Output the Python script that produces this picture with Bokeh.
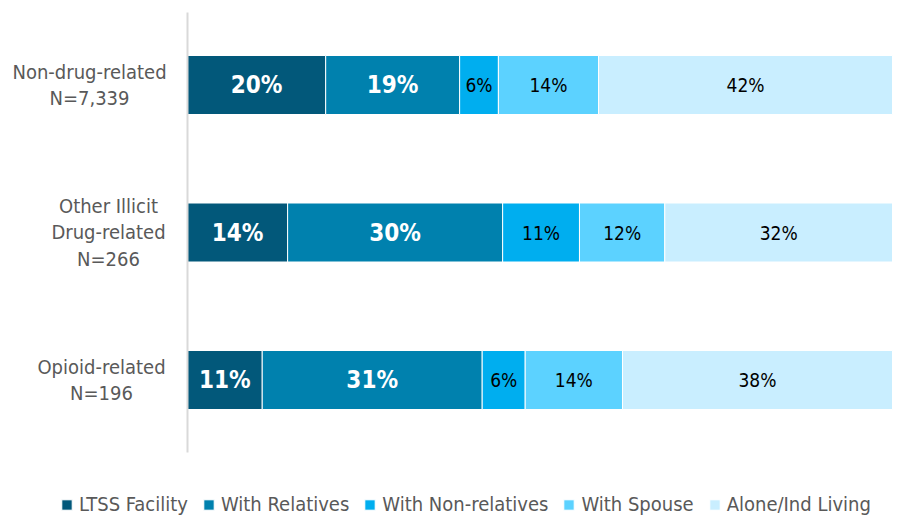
from bokeh.plotting import figure
from bokeh.models import ColumnDataSource, Label, FixedTicker, Range1d
from bokeh.core.properties import value
from bokeh.embed import file_html
from bokeh.resources import INLINE
import numpy as np

categories = ["Non-drug-related\nN=7,339", "Other Illicit\nDrug-related\nN=266", "Opioid-related\nN=196"]
series = ["LTSS Facility", "With Relatives", "With Non-relatives", "With Spouse", "Alone/Ind Living"]
ltss = [19.6, 14.2, 10.6]
relatives = [19.0, 30.5, 31.2]
nonrelatives = [5.5, 10.9, 6.1]
spouse = [14.2, 12.1, 13.8]
alone = [41.7, 32.3, 38.3]
labels_ltss = ["20%", "14%", "11%"]
labels_relatives = ["19%", "30%", "31%"]
labels_nonrelatives = ["6%", "11%", "6%"]
labels_spouse = ["14%", "12%", "14%"]
labels_alone = ["42%", "32%", "38%"]
colors = ["#02587A", "#0081AE", "#00AEEF", "#5CD2FF", "#C9EEFF"]

# style: horizontal offsets (px) of the category label blocks from the axis
cat_label_offsets = [-98, -79, -86]

FONT = "DejaVu Sans Condensed, Roboto"
ypos = [2, 1, 0]
keys = ["ltss", "relatives", "nonrelatives", "spouse", "alone"]
src = ColumnDataSource(dict(y=ypos, ltss=ltss, relatives=relatives, nonrelatives=nonrelatives,
                            spouse=spouse, alone=alone))

p = figure(width=898, height=516, output_backend="svg", toolbar_location=None,
           x_range=Range1d(-26.525, 100.851), y_range=Range1d(-0.9254, 2.5729),
           x_axis_location=None, min_border_left=0, min_border_right=0,
           min_border_top=0, min_border_bottom=0)
p.outline_line_color = None
p.xgrid.visible = False
p.ygrid.visible = False

p.hbar_stack(keys, y="y", height=0.4, color=colors, line_color="white", line_width=1,
             source=src, legend_label=series)

# value labels
vals = np.array([ltss, relatives, nonrelatives, spouse, alone])
texts = [labels_ltss, labels_relatives, labels_nonrelatives, labels_spouse, labels_alone]
cum = np.cumsum(vals, axis=0)
starts = cum - vals
for i in range(5):
    centers = (starts[i] + cum[i]) / 2
    s = ColumnDataSource(dict(x=list(centers), y=ypos, t=texts[i]))
    if i < 2:
        p.text(x="x", y="y", text="t", source=s, text_color="white", text_font=value(FONT),
               text_font_style="bold", text_font_size="24px", text_align="center",
               text_baseline="middle")
    else:
        p.text(x="x", y="y", text="t", source=s, text_color="black", text_font=value(FONT),
               text_font_size="19px", text_align="center", text_baseline="middle")

# y axis drawn at x=0 inside the frame
ax = p.yaxis[0]
ax.fixed_location = 0
ax.bounds = (-0.49, 2.49)
ax.ticker = FixedTicker(ticks=[])
ax.axis_line_color = "#D9D9D9"
ax.axis_line_width = 2
ax.major_tick_line_color = None
ax.minor_tick_line_color = None
ax.major_tick_out = 0
ax.major_label_standoff = 0

for c, y, off in zip(categories, ypos, cat_label_offsets):
    p.add_layout(Label(x=0, y=y, x_offset=off, text=c, text_align="center", text_baseline="middle",
                       text_font=FONT, text_font_size="20px", text_color="#595959",
                       text_line_height=1.1))

lg = p.legend[0]
lg.location = (60, 0)
lg.orientation = "horizontal"
lg.background_fill_alpha = 0
lg.border_line_color = None
lg.margin = 0
lg.padding = 0
lg.spacing = 14
lg.glyph_width = 13
lg.glyph_height = 13
lg.label_standoff = 6
lg.label_text_font = FONT
lg.label_text_font_size = "20px"
lg.label_text_color = "#595959"
lg.label_height = 22

open("out.html", "w").write(file_html(p, INLINE))
